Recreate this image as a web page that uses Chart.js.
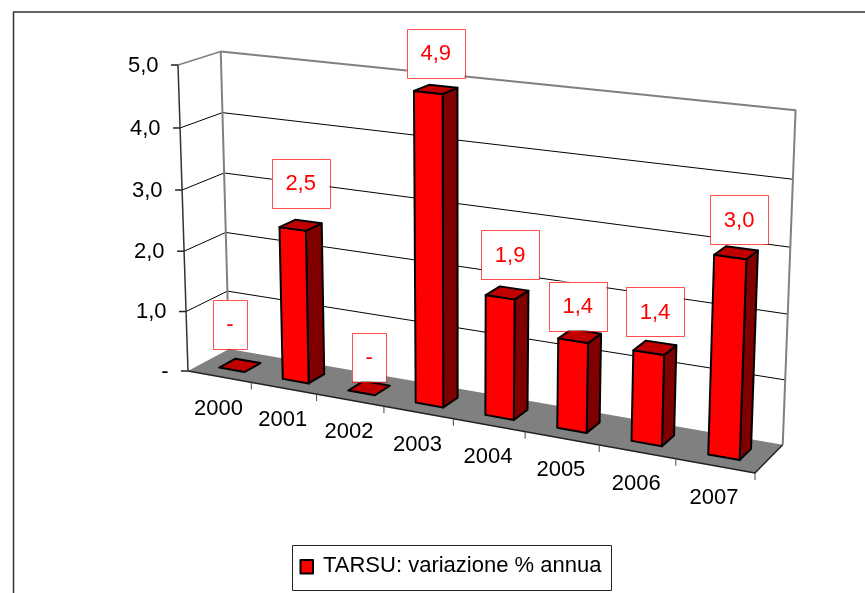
<!DOCTYPE html>
<html>
<head>
<meta charset="utf-8">
<title>TARSU</title>
<script src="https://cdn.jsdelivr.net/npm/chart.js@4"></script>
<style>
  html, body { margin: 0; padding: 0; background: #fff; overflow: hidden; }
  canvas { display: block; }
</style>
</head>
<body>
<canvas id="myChart" width="865" height="593"></canvas>
<script>
const years = ['2000', '2001', '2002', '2003', '2004', '2005', '2006', '2007'];
const tarsu = [0, 2.5, 0, 4.9, 1.9, 1.4, 1.4, 3.0];
const seriesName = 'TARSU: variazione % annua';
const yMax = 5;
const yStep = 1;

// data labels were placed by hand in the original: shift from the top of each bar
const labelShift = [[-10, -41], [0, -42], [0, -31], [0, -36], [3, -38], [-2, -30], [0, -36], [3, -33]];

const font = '22px "Liberation Sans", Arial, sans-serif';

// camera: three floor corners, perspective factors and the vanishing point of the verticals
const A = [188, 371], B = [755, 473], C = [229, 349];
const g = -0.12, h = 0.03;
const Z = [462.6, 8772];
const frontTopY = 65;

// bar depth inside the floor (0 front, 1 back)
const barFront = 0.3, barBack = 0.7;

const ux = B[0] * (1 + g) - A[0], uy = B[1] * (1 + g) - A[1];
const vx = C[0] * (1 + h) - A[0], vy = C[1] * (1 + h) - A[1];
const k = (frontTopY - A[1]) / (Z[1] - frontTopY);

// (u along x, v depth, w height), all 0..1, to the screen
function project(u, v, w) {
  const d = 1 + g * u + h * v + k * w;
  return [(A[0] + ux * u + vx * v + k * Z[0] * w) / d, (A[1] + uy * u + vy * v + k * Z[1] * w) / d];
}

function poly(ctx, pts, fill, stroke, lw) {
  ctx.beginPath();
  pts.forEach(function(p, i) {
    if (i === 0) ctx.moveTo(p[0], p[1]); else ctx.lineTo(p[0], p[1]);
  });
  if (fill) {
    ctx.closePath();
    ctx.fillStyle = fill;
    ctx.fill();
  }
  if (stroke) {
    ctx.strokeStyle = stroke;
    ctx.lineWidth = lw;
    ctx.lineJoin = 'round';
    ctx.stroke();
  }
}

function uOf(chart, px) { return (px - chart.chartArea.left) / chart.chartArea.width; }
function wOf(chart, py) { return (chart.chartArea.bottom - py) / chart.chartArea.height; }

const box3d = {
  id: 'box3d',
  beforeDatasetsDraw(chart) {
    const ctx = chart.ctx, ys = chart.scales.y;
    // outer frame, runs off the picture on the right and at the bottom
    poly(ctx, [[13.5, 600], [13.5, 12], [870, 12]], null, '#333', 1.5);
    // floor
    poly(ctx, [project(0, 0, 0), project(1, 0, 0), project(1, 1, 0), project(0, 1, 0)], '#808080');
    // grid lines on the two walls
    ys.ticks.forEach(function(t) {
      const w = wOf(chart, ys.getPixelForValue(t.value));
      if (t.value > 0 && t.value < yMax) {
        poly(ctx, [project(0, 0, w), project(0, 1, w), project(1, 1, w)], null, '#000', 1);
      }
    });
    // wall edges
    poly(ctx, [project(0, 1, 1), project(1, 1, 1), project(1, 1, 0)], null, '#808080', 2);
    poly(ctx, [project(0, 1, 1), project(0, 1, 0)], null, '#808080', 2);
    poly(ctx, [project(0, 0, 1), project(0, 1, 1)], null, '#808080', 1.5);
    poly(ctx, [project(0, 0, 1), project(0, 0, 0)], null, '#333', 1.5);
    poly(ctx, [project(0, 0, 0), project(1, 0, 0), project(1, 1, 0)], null, '#222', 1.5);
  },
  // 3D prisms instead of the flat rectangles
  beforeDatasetDraw(chart, args) {
    const ctx = chart.ctx;
    args.meta.data.forEach(function(el) {
      const u0 = uOf(chart, el.x - el.width / 2), u1 = uOf(chart, el.x + el.width / 2);
      const w = wOf(chart, el.y);
      const lw = 2;
      if (w > 0) {
        poly(ctx, [project(u1, barFront, 0), project(u1, barBack, 0), project(u1, barBack, w), project(u1, barFront, w)], '#800000', '#000', lw);
        poly(ctx, [project(u0, barFront, 0), project(u1, barFront, 0), project(u1, barFront, w), project(u0, barFront, w)], '#ff0000', '#000', lw);
      }
      poly(ctx, [project(u0, barFront, w), project(u1, barFront, w), project(u1, barBack, w), project(u0, barBack, w)], '#c00000', '#000', lw);
    });
    return false;
  },
  afterDatasetsDraw(chart) {
    const ctx = chart.ctx, xs = chart.scales.x, ys = chart.scales.y;
    ctx.font = font;
    ctx.textBaseline = 'middle';

    // y axis ticks and labels
    ctx.textAlign = 'right';
    ys.ticks.forEach(function(t) {
      const p = project(0, 0, wOf(chart, ys.getPixelForValue(t.value)));
      poly(ctx, [[p[0] - 7, p[1]], p], null, '#222', 1.5);
      ctx.fillStyle = '#000';
      ctx.fillText(t.value === 0 ? '-' : t.value.toFixed(1).replace('.', ','), p[0] - 19.5, p[1] + 0.5);
    });

    // x axis ticks and labels
    ctx.textAlign = 'center';
    const n = years.length;
    years.forEach(function(y, i) {
      const mid = xs.getPixelForValue(i);
      const right = uOf(chart, mid) + 0.5 / n;
      const p = project(right, 0, 0);
      poly(ctx, [p, [p[0], p[1] + 7]], null, '#444', 1);
      const c = project(uOf(chart, mid), 0, 0);
      ctx.fillStyle = '#000';
      ctx.fillText(y, c[0] - 1, c[1] + 32);
    });

    // data labels
    const meta = chart.getDatasetMeta(0);
    tarsu.forEach(function(v, i) {
      const el = meta.data[i];
      const top = project(uOf(chart, el.x), (barFront + barBack) / 2, wOf(chart, el.y));
      const txt = v === 0 ? '-' : v.toFixed(1).replace('.', ',');
      const bw = ctx.measureText(txt).width + 27, bh = 49;
      const mx = top[0] + labelShift[i][0], my = top[1] + labelShift[i][1];
      ctx.fillStyle = '#fff';
      ctx.fillRect(mx - bw / 2, my - bh / 2, bw, bh);
      ctx.strokeStyle = 'rgba(255, 0, 0, 0.7)';
      ctx.lineWidth = 1;
      ctx.strokeRect(Math.round(mx - bw / 2) + 0.5, Math.round(my - bh / 2) + 0.5, Math.round(bw), bh);
      ctx.fillStyle = '#ff0000';
      ctx.fillText(txt, mx, my + 1);
    });

    // legend box
    ctx.fillStyle = '#fff';
    ctx.fillRect(292.5, 545.5, 319, 45);
    ctx.strokeStyle = '#222';
    ctx.lineWidth = 1;
    ctx.strokeRect(292.5, 545.5, 319, 45);
    ctx.fillStyle = '#ff0000';
    ctx.fillRect(300.5, 560, 12.5, 13.5);
    ctx.strokeStyle = '#000';
    ctx.lineWidth = 2;
    ctx.strokeRect(300.5, 560, 12.5, 13.5);
    ctx.fillStyle = '#000';
    ctx.textAlign = 'left';
    ctx.fillText(seriesName, 323, 566);
  }
};

new Chart(document.getElementById('myChart'), {
  type: 'bar',
  data: {
    labels: years,
    datasets: [{
      label: seriesName,
      data: tarsu,
      backgroundColor: '#ff0000',
      categoryPercentage: 1,
      barPercentage: 0.4
    }]
  },
  options: {
    responsive: false,
    animation: false,
    // plot area = front plane of the 3D box
    layout: { padding: { left: 188, right: 110, top: 65, bottom: 222 } },
    plugins: { legend: { display: false }, tooltip: { enabled: false } },
    scales: {
      x: { display: false },
      y: { display: false, min: 0, max: yMax, ticks: { stepSize: yStep } }
    }
  },
  plugins: [box3d]
});
</script>
</body>
</html>
